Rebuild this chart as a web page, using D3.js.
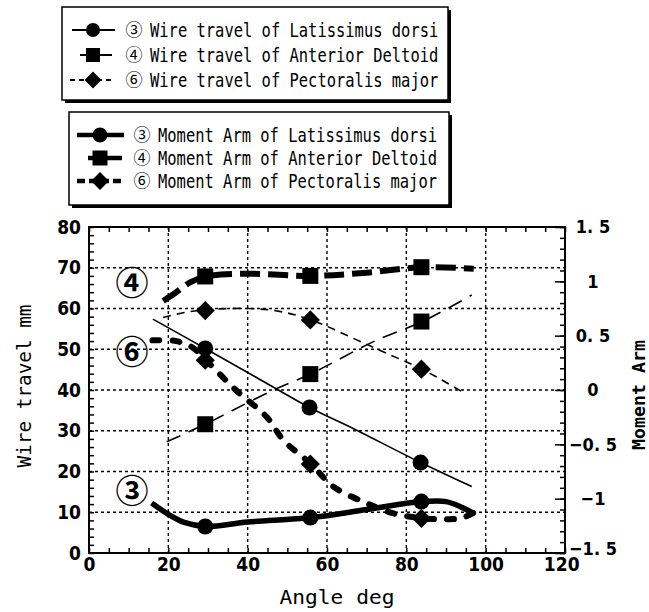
<!DOCTYPE html>
<html>
<head>
<meta charset="utf-8">
<script src="https://cdn.jsdelivr.net/npm/d3@7"></script>
<style>
  body { margin: 0; background: #fff; }
  svg { display: block; }
  text { fill: #000; }
</style>
</head>
<body>
<svg></svg>
<script>
// axis ticks
const xTicks = [0, 20, 40, 60, 80, 100, 120];
const leftTicks = [0, 10, 20, 30, 40, 50, 60, 70, 80];
const rightTicks = [-1.5, -1, -0.5, 0, 0.5, 1, 1.5];

// wire travel (mm, left axis) : [angle, value]
const latWireLine = [[16.1, 57.4], [29.3, 50.2], [42, 43.2], [55.6, 35.7], [66.7, 30.5], [83.6, 22.2], [96.5, 16.3]];
const latWireMarks = [[29.3, 50.2], [55.6, 35.7], [83.6, 22.2]];
const deltWireLine = [[19.6, 27.3], [29.3, 31.6], [36.4, 35.1], [46.5, 40], [56, 44], [62, 47], [72, 52], [84, 56.8], [96.5, 63.3]];
const deltWireMarks = [[29.3, 31.6], [55.8, 43.9], [83.8, 56.8]];
const pectWireLine = [[18.7, 57.8], [24, 59], [29.5, 59.7], [40, 60], [48, 59.3], [56, 57.2], [67.5, 52.3], [75, 49], [84, 45.1], [94.7, 39.2]];
const pectWireMarks = [[29.3, 59.5], [55.8, 57.2], [83.8, 45.1]];

// moment arm (right axis) : [angle, value]
const latMomLine = [[15.8, -1.04], [20, -1.144], [24, -1.219], [29.5, -1.256], [40, -1.215], [56, -1.174], [70, -1.1], [84, -1.027], [90, -1.027], [94, -1.08], [97, -1.136]];
const latMomMarks = [[29.3, -1.256], [55.8, -1.174], [83.8, -1.027]];
const deltMomLine = [[18.7, 0.82], [22, 0.9], [25.5, 0.99], [29.5, 1.045], [40, 1.07], [56, 1.05], [70, 1.08], [84, 1.13], [97, 1.115]];
const deltMomMarks = [[29.3, 1.045], [55.8, 1.05], [83.8, 1.13]];
const pectMomLine = [[16, 0.457], [22, 0.45], [26, 0.394], [29.5, 0.274], [37, 0], [44.8, -0.248], [49, -0.461], [56, -0.682], [61.6, -0.889], [70, -1.042], [76.8, -1.136], [84, -1.18], [90, -1.189], [94, -1.178], [97, -1.129]];
const pectMomMarks = [[29.3, 0.274], [55.8, -0.682], [83.8, -1.181]];

const legendWire = ["Wire travel of Latissimus dorsi", "Wire travel of Anterior Deltoid", "Wire travel of Pectoralis major"];
const legendMom = ["Moment Arm of Latissimus dorsi", "Moment Arm of Anterior Deltoid", "Moment Arm of Pectoralis major"];
const circled = ["③", "④", "⑥"];

const size = { w: 649, h: 612 };
const plot = { l: 89, r: 565, t: 227, b: 553 };
const monoFont = "'DejaVu Sans Mono', monospace";
const numFont = "'DejaVu Sans Condensed', 'DejaVu Sans', sans-serif";
const cjkFont = "'Noto Sans CJK JP', sans-serif";

const svg = d3.select("svg").attr("width", size.w).attr("height", size.h);
svg.append("rect").attr("width", size.w).attr("height", size.h).attr("fill", "#fff");

const x = d3.scaleLinear().domain([0, 120]).range([plot.l, plot.r]);
const y = d3.scaleLinear().domain([0, 80]).range([plot.b, plot.t]);
const yR = d3.scaleLinear().domain([-1.5, 1.5]).range([plot.b, plot.t]);

// series styles
const styles = {
	latWire: { w: 1.6, dash: null },
	deltWire: { w: 1.6, dash: "15,9" },
	pectWire: { w: 1.6, dash: "8,6" },
	latMom: { w: 5.5, dash: null },
	deltMom: { w: 6, dash: "20,8" },
	pectMom: { w: 6, dash: "7,13", cap: "round" },
};

function markPath(type, r) {
	if (type === "circle") return d3.symbol(d3.symbolCircle, Math.PI * r * r)();
	if (type === "square") return `M${-r},${-r}H${r}V${r}H${-r}Z`;
	const d = r * 1.2;
	return `M0,${-d}L${d},0L0,${d}L${-d},0Z`;
}

// grid
const grid = svg.append("g").attr("stroke", "#000").attr("stroke-width", 1.4).attr("stroke-dasharray", "3,3");
[20, 40, 60, 80, 100].forEach((v) => {
	grid.append("line").attr("x1", x(v)).attr("x2", x(v)).attr("y1", plot.t).attr("y2", plot.b);
});
[10, 20, 30, 40, 50, 60, 70].forEach((v) => {
	grid.append("line").attr("x1", plot.l).attr("x2", plot.r).attr("y1", y(v)).attr("y2", y(v));
});

const series = [
	{ line: latWireLine, marks: latWireMarks, s: styles.latWire, sc: y, m: "circle" },
	{ line: deltWireLine, marks: deltWireMarks, s: styles.deltWire, sc: y, m: "square" },
	{ line: pectWireLine, marks: pectWireMarks, s: styles.pectWire, sc: y, m: "diamond" },
	{ line: latMomLine, marks: latMomMarks, s: styles.latMom, sc: yR, m: "circle" },
	{ line: deltMomLine, marks: deltMomMarks, s: styles.deltMom, sc: yR, m: "square" },
	{ line: pectMomLine, marks: pectMomMarks, s: styles.pectMom, sc: yR, m: "diamond" },
];

const linesG = svg.append("g");
series.forEach((d) => {
	const line = d3
		.line()
		.x((p) => x(p[0]))
		.y((p) => d.sc(p[1]))
		.curve(d3.curveCatmullRom.alpha(0.5));
	linesG
		.append("path")
		.attr("d", line(d.line))
		.attr("fill", "none")
		.attr("stroke", "#000")
		.attr("stroke-width", d.s.w)
		.attr("stroke-linecap", d.s.cap || "butt")
		.attr("stroke-dasharray", d.s.dash);
});
series.forEach((d) => {
	linesG
		.append("g")
		.selectAll("path")
		.data(d.marks)
		.join("path")
		.attr("transform", (p) => `translate(${x(p[0])},${d.sc(p[1])})`)
		.attr("d", markPath(d.m, 8))
		.attr("fill", "#000");
});

// axes
function styleAxis(g) {
	g.select(".domain").remove();
	g.selectAll("line").attr("stroke", "#000").attr("stroke-width", 1.5);
	g.selectAll("text").attr("font-family", numFont).attr("font-size", 19).attr("font-weight", "bold");
}

svg.append("g")
	.attr("transform", `translate(${plot.l},0)`)
	.call(d3.axisLeft(y).tickValues(d3.range(0, 81, 2)).tickSize(-5).tickFormat(() => ""))
	.call(styleAxis);
svg.append("g")
	.attr("transform", `translate(${plot.l},0)`)
	.call(d3.axisLeft(y).tickValues(leftTicks).tickSize(0).tickPadding(8))
	.call(styleAxis);

svg.append("g")
	.attr("transform", `translate(${plot.r},0)`)
	.call(d3.axisRight(yR).tickValues(d3.range(-15, 16, 1).map((v) => v / 10)).tickSize(-5).tickFormat(() => ""))
	.call(styleAxis);
svg.append("g")
	.attr("transform", `translate(${plot.r},0)`)
	.call(d3.axisRight(yR).tickValues(rightTicks).tickSize(-10).tickPadding(28)
		.tickFormat((v) => String(v).replace("-", "\u2212").replace(".", ". ")))
	.call(styleAxis)
	.call((g) => g.selectAll("text").attr("text-anchor", "middle").attr("font-size", 18)
		.attr("dy", (v) => (v === -1.5 ? "0.1em" : "0.32em")));

svg.append("g")
	.attr("transform", `translate(0,${plot.b})`)
	.call(d3.axisBottom(x).tickValues(d3.range(0, 121, 5)).tickSize(-5).tickFormat(() => ""))
	.call(styleAxis);
svg.append("g")
	.attr("transform", `translate(0,${plot.b})`)
	.call(d3.axisBottom(x).tickValues(xTicks).tickSize(0).tickPadding(5))
	.call(styleAxis)
	.call((g) => g.selectAll(".tick").filter((v) => v === 120).select("text").attr("dx", "-0.2em"));

svg.append("g")
	.attr("transform", `translate(0,${plot.t})`)
	.call(d3.axisTop(x).tickValues(d3.range(0, 121, 5)).tickSize(-5).tickFormat(() => ""))
	.call(styleAxis);

svg.append("rect")
	.attr("x", plot.l).attr("y", plot.t)
	.attr("width", plot.r - plot.l).attr("height", plot.b - plot.t)
	.attr("fill", "none").attr("stroke", "#000").attr("stroke-width", 2);

// axis titles
svg.append("text")
	.attr("transform", `translate(31,386) rotate(-90)`)
	.attr("text-anchor", "middle")
	.attr("font-family", monoFont).attr("font-size", 19)
	.attr("textLength", 163).attr("lengthAdjust", "spacingAndGlyphs")
	.text("Wire travel  mm");
svg.append("text")
	.attr("transform", `translate(645,395) rotate(-90)`)
	.attr("text-anchor", "middle")
	.attr("font-family", monoFont).attr("font-size", 18).attr("font-weight", "bold")
	.attr("textLength", 110).attr("lengthAdjust", "spacingAndGlyphs")
	.text("Moment Arm");
svg.append("text")
	.attr("x", 337).attr("y", 604)
	.attr("text-anchor", "middle")
	.attr("font-family", monoFont).attr("font-size", 19)
	.attr("textLength", 115).attr("lengthAdjust", "spacingAndGlyphs")
	.text("Angle  deg");

// circled labels in plot
[["④", 281], ["⑥", 350], ["③", 489]].forEach(([t, cy]) => {
	svg.append("text")
		.attr("x", 132).attr("y", cy)
		.attr("text-anchor", "middle").attr("dominant-baseline", "central")
		.attr("font-family", cjkFont).attr("font-size", 33).attr("font-weight", "bold")
		.text(t);
});

// legends
function legendBox(bx, by, bw, bh) {
	svg.append("rect").attr("x", bx + 3).attr("y", by + 3).attr("width", bw).attr("height", bh).attr("fill", "#000");
	svg.append("rect").attr("x", bx).attr("y", by).attr("width", bw).attr("height", bh)
		.attr("fill", "#fff").attr("stroke", "#000").attr("stroke-width", 1.5);
}

legendBox(62, 7, 386, 93);
legendBox(69, 112, 380, 93);

const legendRows = [
	{ labels: legendWire, ys: [30, 55, 80], textX: 150, keys: ["latWire", "deltWire", "pectWire"], mx: 93, r: 7,
		spans: [[72, 115], [80, 112], [70, 115]] },
	{ labels: legendMom, ys: [135, 158, 181], textX: 158, keys: ["latMom", "deltMom", "pectMom"], mx: 100, r: 7.5,
		spans: [[77, 124], [88, 122], [77, 124]] },
];
const markTypes = ["circle", "square", "diamond"];

legendRows.forEach((lg) => {
	lg.labels.forEach((lab, i) => {
		const s = styles[lg.keys[i]];
		const cy = lg.ys[i];
		const thick = s.w > 2;
		// only the third row shows its dash pattern, the short second row reads as solid
		const dash = i === 2 ? (thick ? "8,4" : "5,4") : null;
		svg.append("line")
			.attr("x1", lg.spans[i][0]).attr("x2", lg.spans[i][1]).attr("y1", cy).attr("y2", cy)
			.attr("stroke", "#000")
			.attr("stroke-width", thick ? 4.5 : 2)
			.attr("stroke-dasharray", dash);
		svg.append("path")
			.attr("transform", `translate(${lg.mx},${cy})`)
			.attr("d", markPath(markTypes[i], lg.r))
			.attr("fill", "#000");
		svg.append("text")
			.attr("x", lg.textX - 16).attr("y", cy + 6)
			.attr("text-anchor", "middle")
			.attr("font-family", cjkFont).attr("font-size", 17)
			.text(circled[i]);
		svg.append("text")
			.attr("x", lg.textX).attr("y", cy + 7)
			.attr("font-family", monoFont).attr("font-size", 19)
			.attr("textLength", lab.length * 9.3).attr("lengthAdjust", "spacingAndGlyphs")
			.text(lab);
	});
});
</script>
</body>
</html>
